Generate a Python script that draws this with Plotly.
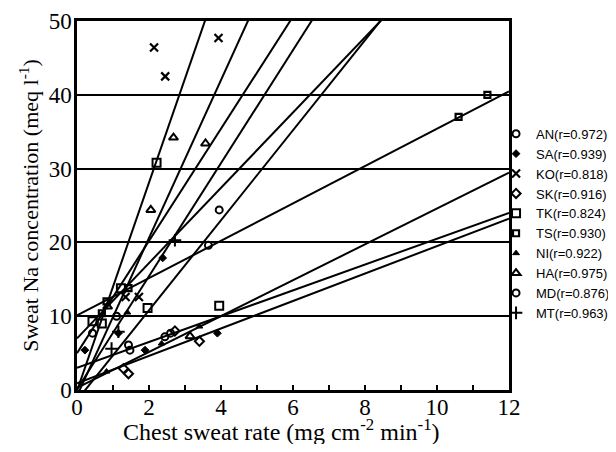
import plotly.graph_objects as go

# ---- data ----
subjects = ["AN", "SA", "KO", "SK", "TK", "TS", "NI", "HA", "MD", "MT"]
r_values = ["0.972", "0.939", "0.818", "0.916", "0.824", "0.930", "0.922", "0.975", "0.876", "0.963"]

# scatter points (chest sweat rate, Na concentration)
AN_x = [0.43, 1.10, 3.65, 3.95]
AN_y = [7.7, 10.0, 19.6, 24.4]
SA_x = [0.22, 1.15, 1.89, 2.38, 3.90]
SA_y = [5.4, 7.7, 5.4, 17.9, 7.7]
KO_x = [1.35, 1.72, 2.14, 2.45, 3.93]
KO_y = [12.6, 12.6, 46.4, 42.5, 47.7]
SK_x = [1.29, 1.43, 2.72, 3.40]
SK_y = [2.9, 2.2, 8.0, 6.6]
TK_x = [0.43, 0.69, 1.22, 1.96, 2.21, 3.95]
TK_y = [9.3, 9.0, 13.8, 11.1, 30.8, 11.4]
TS_x = [0.69, 0.82, 1.43, 10.6, 11.4]
TS_y = [10.4, 12.0, 13.8, 37.0, 40.0]
NI_x = [0.82, 1.40, 2.35, 3.40]
NI_y = [2.5, 10.5, 6.3, 8.6]
HA_x = [0.85, 2.05, 2.68, 3.14, 3.57]
HA_y = [11.3, 24.4, 34.2, 7.3, 33.4]
MD_x = [1.43, 1.47, 2.44, 2.60]
MD_y = [6.1, 5.4, 7.2, 7.7]
MT_x = [0.96, 1.15, 2.72]
MT_y = [5.6, 7.9, 20.3]

# regression lines: slope, intercept
slopes = [5.1, 7.6, 14.1, 1.86, 6.1, 2.53, 2.43, 10.7, 1.75, 7.66]
intercepts = [7.0, 5.0, -0.1, 0.9, -1.4, 10.1, 0.3, -0.8, 3.0, 0.1]
line_x = [0, 12]

points_x = [AN_x, SA_x, KO_x, SK_x, TK_x, TS_x, NI_x, HA_x, MD_x, MT_x]
points_y = [AN_y, SA_y, KO_y, SK_y, TK_y, TS_y, NI_y, HA_y, MD_y, MT_y]

x_ticks = [0, 2, 4, 6, 8, 10, 12]
y_ticks = [0, 10, 20, 30, 40, 50]

# ---- styles ----
symbols = ["circle-open", "diamond", "x-thin-open", "diamond-open", "square-open",
           "square-open", "triangle-up", "triangle-up-open", "circle-open", "cross-thin-open"]
sizes = [7, 6, 8, 7, 8, 6, 6, 8, 7, 9]
widths = [2, 1, 2.2, 2, 2, 2.2, 1, 2, 2, 2]

fig = go.Figure()

for i, s in enumerate(subjects):
    ly = [intercepts[i] + slopes[i] * xv for xv in line_x]
    fig.add_trace(go.Scatter(x=line_x, y=ly, mode="lines",
                             line=dict(color="black", width=2),
                             showlegend=False, hoverinfo="skip"))

for i, s in enumerate(subjects):
    fig.add_trace(go.Scatter(
        x=points_x[i], y=points_y[i], mode="markers",
        name=f"{s}(r={r_values[i]})",
        marker=dict(symbol=symbols[i], size=sizes[i], color="black",
                    line=dict(color="black", width=widths[i])),
        cliponaxis=False))

serif = "Liberation Serif, Times New Roman, serif"

# the page body adds an 8px margin on every side, so the figure is sized
# to fit inside the window without scrollbars
fig.update_layout(
    width=600, height=436,
    margin=dict(l=69, r=99, t=13, b=54, autoexpand=False),
    paper_bgcolor="white", plot_bgcolor="white",
    showlegend=True,
    legend=dict(x=0.970, y=0.735, xanchor="left", yanchor="top",
                font=dict(family="Liberation Sans, Arial, sans-serif", size=13, color="black"),
                bgcolor="rgba(0,0,0,0)", borderwidth=0, itemwidth=30,
                tracegroupgap=1.4),
    xaxis=dict(range=[0, 12], tickvals=x_ticks, ticktext=[str(v) for v in x_ticks],
               ticks="inside", ticklen=5, tickwidth=1.5, tickcolor="black",
               minor=dict(dtick=1, ticks="inside", ticklen=5, tickwidth=1.5, tickcolor="black"),
               showline=True, linecolor="black", linewidth=2.5, mirror=True,
               showgrid=False, zeroline=False, automargin=False,
               ticklabelstandoff=-5,
               tickfont=dict(family=serif, size=23, color="black")),
    yaxis=dict(range=[0, 50], tickvals=y_ticks, ticktext=[str(v) for v in y_ticks],
               ticks="", showline=True, linecolor="black", linewidth=2.5, mirror=True,
               showgrid=True, gridcolor="black", gridwidth=2, zeroline=False,
               automargin=False, ticklabelstandoff=-2,
               tickfont=dict(family=serif, size=23, color="black"),
               title=dict(text="Sweat Na concentration (meq l<sup>-1</sup>)",
                          font=dict(family=serif, size=22, color="black"), standoff=4)),
    annotations=[dict(text="Chest sweat rate (mg cm<sup>-2</sup> min<sup>-1</sup>)",
                      xref="paper", yref="paper", x=0.4745, y=-0.108,
                      xanchor="center", yanchor="middle", showarrow=False,
                      font=dict(family=serif, size=24, color="black"))],
)

fig.write_html("out.html")
